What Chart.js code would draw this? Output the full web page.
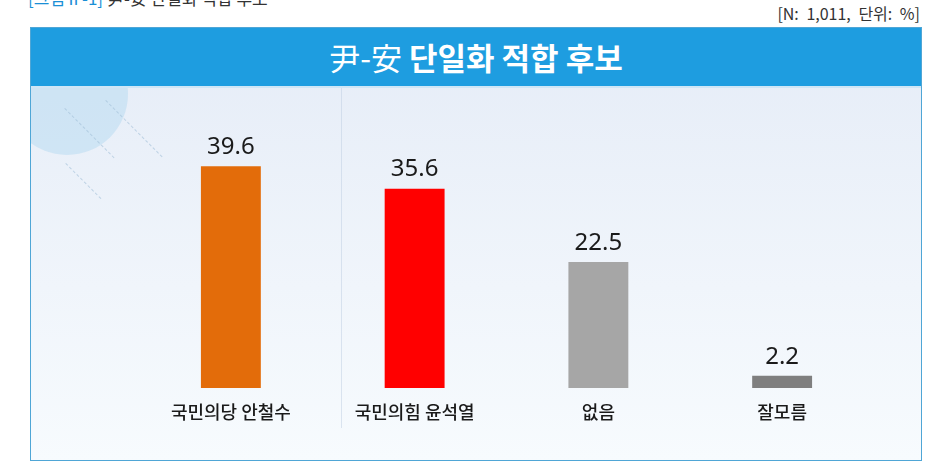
<!DOCTYPE html>
<html><head><meta charset="utf-8">
<script src="https://cdn.jsdelivr.net/npm/chart.js@4"></script>
<style>
html,body{margin:0;padding:0;background:#fff;width:951px;height:475px;overflow:hidden;font-family:"Noto Sans CJK KR","Noto Sans",sans-serif;}
#cap{position:absolute;left:28px;top:-15px;font-size:17px;color:#333;white-space:nowrap;}
#cap b{color:#1a8fd6;font-weight:normal;}
#note{position:absolute;right:31px;top:1px;font-size:16px;color:#333;word-spacing:4px;}
#frame{position:absolute;left:30px;top:27px;width:890px;height:432px;border:1px solid #4fa6d6;background:linear-gradient(#e5ecf7,#f0f5fb 60%,#f7fbfe);}
#head{position:absolute;left:0;top:0;width:890px;height:58px;background:#1e9de0;border-bottom:2px solid #cfe6f6;color:#fff;text-align:center;line-height:58px;font-size:31px;}
#head .r{font-weight:400;}
#head .b{font-weight:700;}
#deco{position:absolute;left:0;top:60px;width:890px;height:372px;overflow:hidden;}
#circ{position:absolute;left:-25px;top:-55px;width:122px;height:122px;border-radius:50%;background:rgba(175,215,240,0.45);}
.dl{position:absolute;height:1px;border-top:1px dashed rgba(160,190,215,0.6);transform-origin:0 0;transform:rotate(45deg);}
#vl{position:absolute;left:310px;top:0;width:1px;height:340px;background:rgba(190,205,225,0.5);}
#wrap{position:absolute;left:31px;top:86px;width:890px;height:373px;}
</style></head>
<body>
<div id="cap"><b>[그림Ⅱ-1]</b> 尹-安 단일화 적합 후보</div>
<div id="note">[N: 1,011, 단위: %]</div>
<div id="frame">
  <div id="head"><span class="r">尹-安</span> <span class="b">단일화 적합 후보</span></div>
  <div id="deco"><div id="circ"></div>
    <div class="dl" style="left:75px;top:12px;width:80px;"></div>
    <div class="dl" style="left:34px;top:20px;width:70px;"></div>
    <div class="dl" style="left:35px;top:75px;width:50px;"></div>
    <div id="vl"></div></div>
</div>
<div id="wrap"><canvas id="c" width="890" height="373"></canvas></div>
<script>
const categories = ["국민의당 안철수", "국민의힘 윤석열", "없음", "잘모름"];
const values = [39.6, 35.6, 22.5, 2.2];
const barColors = ["#e36c0a", "#ff0000", "#a6a6a6", "#7f7f7f"];

const valueLabels = {
  id: "valueLabels",
  afterDatasetsDraw(chart) {
    const ctx = chart.ctx;
    const meta = chart.getDatasetMeta(0);
    ctx.save();
    ctx.font = '24px "Noto Sans", "Noto Sans CJK KR", sans-serif';
    ctx.fillStyle = "#1a1a1a";
    ctx.textAlign = "center";
    ctx.textBaseline = "bottom";
    meta.data.forEach((bar, i) => {
      ctx.fillText(values[i].toFixed(1), bar.x, bar.y - 7);
    });
    ctx.restore();
  }
};

new Chart(document.getElementById("c"), {
  type: "bar",
  data: {
    labels: categories,
    datasets: [{
      data: values,
      backgroundColor: barColors,
      borderWidth: 0,
      barPercentage: 0.326,
      categoryPercentage: 1
    }]
  },
  options: {
    responsive: false,
    animation: false,
    layout: { padding: { left: 108, right: 47, top: 50, bottom: 0 } },
    plugins: { legend: { display: false }, tooltip: { enabled: false } },
    scales: {
      x: {
        grid: { display: false },
        border: { display: false },
        ticks: {
          color: "#1a1a1a",
          font: { family: '"Noto Sans CJK KR", sans-serif', size: 18, weight: "500" },
          padding: 5,
          maxRotation: 0
        },
        afterFit(scale) { scale.height = 71; }
      },
      y: {
        display: false,
        min: 0,
        max: 45
      }
    }
  },
  plugins: [valueLabels]
});
</script>
</body></html>
